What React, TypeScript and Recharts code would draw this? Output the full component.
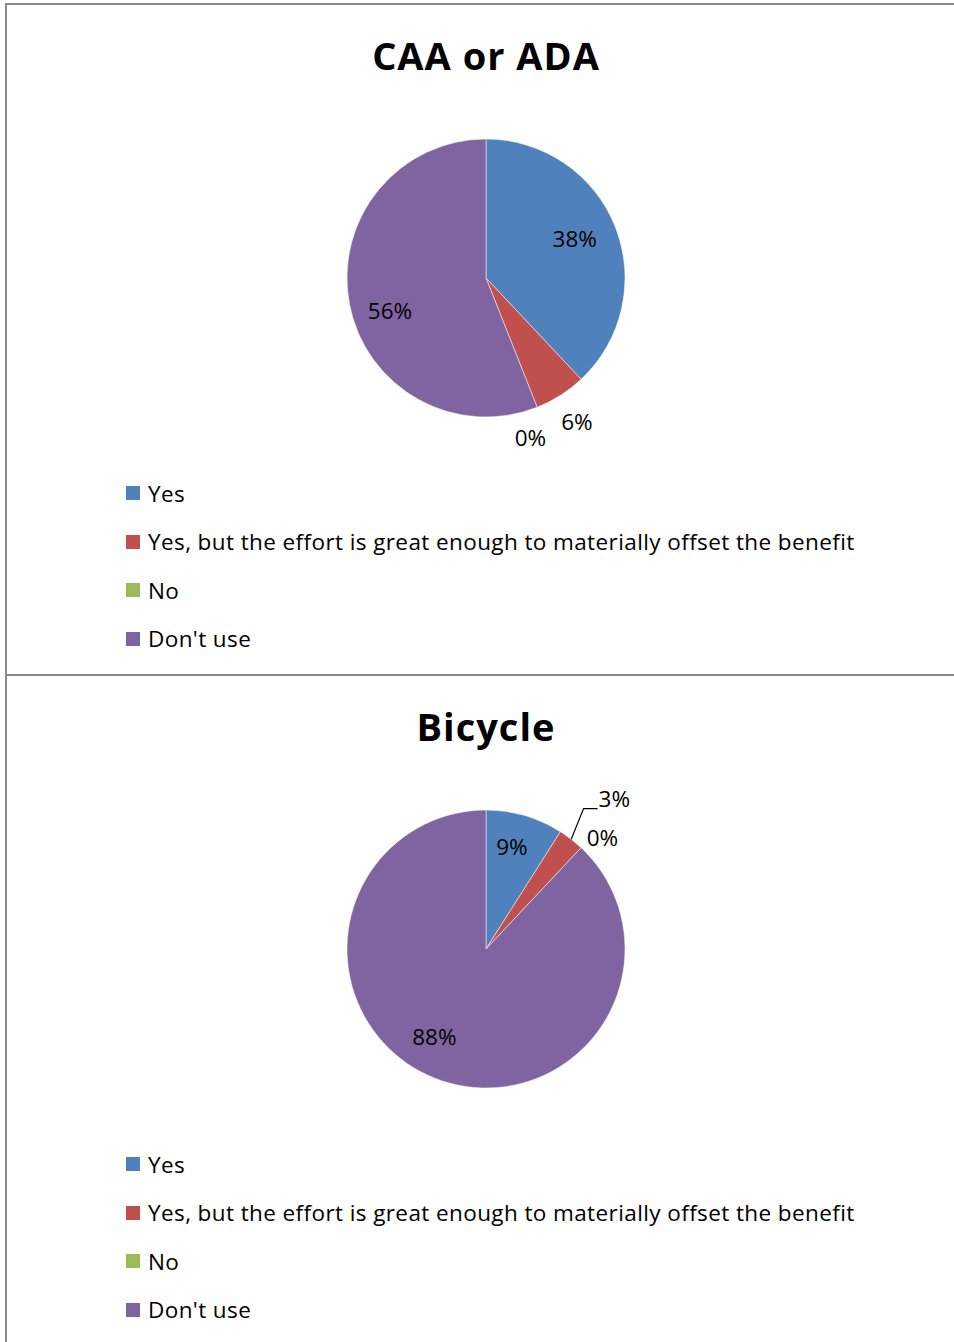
import { Cell, Pie, PieChart } from "recharts";

const categories = [
  "Yes",
  "Yes, but the effort is great enough to materially offset the benefit",
  "No",
  "Don't use",
];
const caaValues = [38, 6, 0, 56];
const bicycleValues = [9, 3, 0, 88];
const colors = ["#4F81BD", "#C0504D", "#9BBB59", "#8064A2"];

// label placement (radius factor, angle nudge in degrees, leader line)
const caaLabels = [
  { r: 0.7, da: 2.6 },
  { r: 1.22, da: 0 },
  { r: 1.19, da: -6 },
  { r: 0.73, da: 8 },
];
const bicycleLabels = [
  { r: 0.76, da: 2 },
  { r: 1.23, da: 3, leader: true },
  { r: 1.16, da: -3 },
  { r: 0.73, da: -9 },
];

const FONT = "'Open Sans', 'Noto Sans', sans-serif";
const RAD = Math.PI / 180;

const makeLabel = (cfg: { r: number; da: number; leader?: boolean }[]) => (props: any) => {
  const { cx, cy, midAngle, outerRadius, percent, index } = props;
  const c = cfg[index];
  const a = (midAngle + c.da) * RAD;
  const rr = outerRadius * c.r;
  const x = cx + rr * Math.cos(-a);
  const y = cy + rr * Math.sin(-a);
  const text = `${Math.round(percent * 100)}%`;
  if (c.leader) {
    const m = midAngle * RAD;
    const x0 = cx + outerRadius * Math.cos(-m);
    const y0 = cy + outerRadius * Math.sin(-m);
    return (
      <g>
        <path d={`M${x0},${y0} L${x},${y} L${x + 14},${y}`} stroke="#000" strokeWidth={1.2} fill="none" />
        <text x={x + 15} y={y - 10} textAnchor="start" dominantBaseline="central" fontFamily={FONT} fontSize={22.5} fill="#000">
          {text}
        </text>
      </g>
    );
  }
  return (
    <text x={x} y={y} textAnchor="middle" dominantBaseline="central" fontFamily={FONT} fontSize={22.5} fill="#000">
      {text}
    </text>
  );
};

const LegendBox = () => (
  <div style={{ position: "absolute", left: 119, top: 464 }}>
    {categories.map((name, i) => (
      <div key={name} style={{ display: "flex", alignItems: "center", height: 48.5 }}>
        <span style={{ width: 14, height: 14, background: colors[i], marginRight: 8, display: "inline-block" }} />
        <span style={{ fontFamily: FONT, fontSize: 22.5, letterSpacing: 0.4, color: "#000", whiteSpace: "nowrap" }}>{name}</span>
      </div>
    ))}
  </div>
);

function PiePanel({ title, values, labels, top, height }: { title: string; values: number[]; labels: any[]; top: number; height: number }) {
  const data = categories.map((name, i) => ({ name, value: values[i] }));
  return (
    <div
      style={{
        position: "absolute",
        left: 5,
        top,
        width: 960,
        height,
        borderLeft: "2px solid #8a8a8a",
        borderTop: "2px solid #8a8a8a",
        boxSizing: "border-box",
      }}
    >
      <div
        style={{
          position: "absolute",
          left: 479,
          top: 28,
          transform: "translateX(-50%)",
          fontFamily: FONT,
          fontWeight: 700,
          fontSize: 38,
          letterSpacing: 1,
          lineHeight: "44px",
          color: "#000",
          whiteSpace: "nowrap",
        }}
      >
        {title}
      </div>
      <PieChart width={958} height={height - 2} margin={{ top: 0, right: 0, bottom: 0, left: 0 }}>
        <Pie
          data={data}
          dataKey="value"
          nameKey="name"
          cx={479}
          cy={273}
          outerRadius={139}
          startAngle={90}
          endAngle={-270}
          stroke="#ffffff"
          strokeWidth={0.5}
          label={makeLabel(labels)}
          labelLine={false}
          isAnimationActive={false}
        >
          {data.map((d, i) => (
            <Cell key={d.name} fill={colors[i]} />
          ))}
        </Pie>
      </PieChart>
      <LegendBox />
    </div>
  );
}

export default function App() {
  return (
    <div style={{ position: "absolute", left: 0, top: 0, width: 954, height: 1342, overflow: "hidden", background: "#fff" }}>
      <PiePanel title="CAA or ADA" values={caaValues} labels={caaLabels} top={3} height={672} />
      <PiePanel title="Bicycle" values={bicycleValues} labels={bicycleLabels} top={674} height={700} />
    </div>
  );
}
